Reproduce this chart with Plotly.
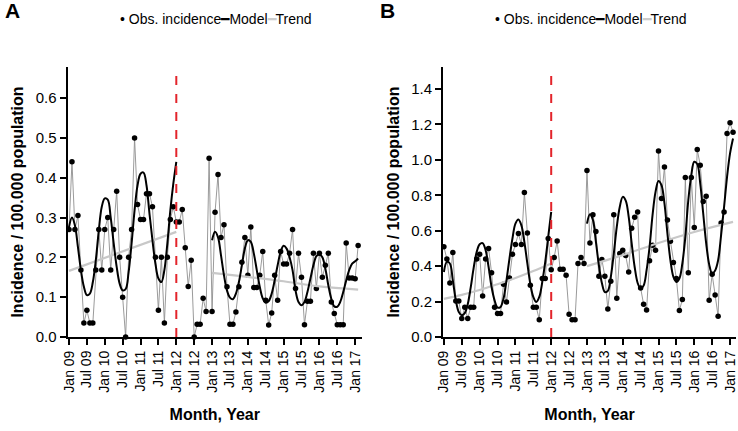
import plotly.graph_objects as go

# ---------------- data ----------------
MONTH_NAMES = ["Jan", "Feb", "Mar", "Apr", "May", "Jun", "Jul", "Aug", "Sep", "Oct", "Nov", "Dec"]
months = [f"{m} {y:02d}" for y in range(9, 18) for m in MONTH_NAMES][:98]   # Jan 09 .. Feb 17

tick_labels = ["Jan 09", "Jul 09", "Jan 10", "Jul 10", "Jan 11", "Jul 11", "Jan 12", "Jul 12",
               "Jan 13", "Jul 13", "Jan 14", "Jul 14", "Jan 15", "Jul 15", "Jan 16", "Jul 16", "Jan 17"]

intervention = "Jan 12"

# Panel A observed incidence
obs_a = [0.27, 0.44, 0.27, 0.305, 0.168, 0.035, 0.067, 0.035, 0.035, 0.168, 0.27, 0.168,
         0.27, 0.30, 0.168, 0.27, 0.366, 0.20, 0.10, 0.0, 0.20, 0.27, 0.50, 0.333,
         0.295, 0.295, 0.36, 0.36, 0.327, 0.20, 0.067, 0.20, 0.035, 0.20, 0.295, 0.327,
         0.289, 0.289, 0.32, 0.224, 0.127, 0.193, 0.0, 0.032, 0.032, 0.097, 0.064, 0.449,
         0.064, 0.313, 0.408, 0.25, 0.282, 0.126, 0.032, 0.032, 0.063, 0.126, 0.188, 0.25,
         0.155, 0.276, 0.124, 0.124, 0.155, 0.215, 0.092, 0.03, 0.06, 0.155, 0.092, 0.215,
         0.183, 0.183, 0.21, 0.27, 0.122, 0.21, 0.15, 0.031, 0.09, 0.09, 0.21, 0.122,
         0.21, 0.15, 0.18, 0.21, 0.088, 0.059, 0.031, 0.031, 0.031, 0.236, 0.148, 0.148,
         0.146, 0.23]

# Panel A model, before (Jan 09 - Jan 12) and after (Jan 13 - Feb 17)
model_a_pre_start = "Jan 09"
model_a_pre = [0.276, 0.30, 0.28, 0.226, 0.168, 0.126, 0.105, 0.109, 0.138, 0.193, 0.268, 0.327,
               0.348, 0.345, 0.30, 0.235, 0.176, 0.134, 0.117, 0.12, 0.163, 0.235, 0.318, 0.381,
               0.41, 0.413, 0.381, 0.31, 0.243, 0.184, 0.147, 0.138, 0.168, 0.235, 0.318, 0.385,
               0.44]
model_a_post_start = "Jan 13"
model_a_post = [0.243, 0.264, 0.25, 0.205, 0.155, 0.117, 0.099, 0.095, 0.109, 0.138, 0.18, 0.222,
                0.243, 0.239, 0.21, 0.168, 0.126, 0.097, 0.086, 0.09, 0.109, 0.142, 0.18, 0.214,
                0.229, 0.222, 0.20, 0.168, 0.117, 0.088, 0.08, 0.088, 0.113, 0.147, 0.18, 0.203,
                0.208, 0.20, 0.172, 0.13, 0.096, 0.077, 0.076, 0.088, 0.113, 0.142, 0.168, 0.184,
                0.19, 0.197]

trend_a_pre_months = ["Jan 09", "Jan 12"]
trend_a_pre = [0.166, 0.264]
trend_a_post_months = ["Jan 13", "Jan 14", "Jan 15", "Jan 16", "Feb 17"]
trend_a_post = [0.161, 0.151, 0.14, 0.127, 0.119]

# Panel B observed incidence
obs_b = [0.51, 0.44, 0.305, 0.477, 0.203, 0.203, 0.104, 0.168, 0.104, 0.168, 0.168, 0.44,
         0.467, 0.232, 0.44, 0.50, 0.362, 0.168, 0.132, 0.132, 0.298, 0.198, 0.333, 0.467,
         0.522, 0.584, 0.522, 0.816, 0.587, 0.292, 0.168, 0.168, 0.098, 0.33, 0.33, 0.556,
         0.38, 0.449, 0.542, 0.382, 0.382, 0.349, 0.128, 0.098, 0.098, 0.415, 0.449, 0.415,
         0.94, 0.531, 0.69, 0.595, 0.343, 0.437, 0.343, 0.158, 0.315, 0.69, 0.219, 0.471,
         0.49, 0.46, 0.367, 0.614, 0.676, 0.705, 0.277, 0.185, 0.153, 0.43, 0.518, 0.49,
         1.05, 0.782, 0.96, 0.66, 0.54, 0.42, 0.33, 0.15, 0.211, 0.90, 0.362, 0.90,
         0.618, 1.058, 0.97, 0.765, 0.795, 0.207, 0.354, 0.237, 0.117, 0.644, 0.706, 1.149,
         1.21, 1.155]

model_b_pre_start = "Jan 09"
model_b_pre = [0.367, 0.424, 0.415, 0.32, 0.207, 0.141, 0.123, 0.135, 0.185, 0.28, 0.392, 0.48,
               0.524, 0.53, 0.49, 0.395, 0.282, 0.207, 0.166, 0.17, 0.217, 0.32, 0.443, 0.556,
               0.64, 0.663, 0.63, 0.537, 0.415, 0.30, 0.226, 0.198, 0.226, 0.31, 0.424, 0.565,
               0.706]
model_b_post_start = "Jan 13"
model_b_post = [0.64, 0.693, 0.66, 0.537, 0.405, 0.305, 0.254, 0.26, 0.339, 0.471, 0.621, 0.734,
                0.791, 0.77, 0.678, 0.528, 0.395, 0.305, 0.273, 0.29, 0.377, 0.508, 0.688, 0.819,
                0.881, 0.857, 0.754, 0.584, 0.433, 0.339, 0.311, 0.33, 0.415, 0.565, 0.772, 0.914,
                0.989, 0.976, 0.867, 0.697, 0.528, 0.41, 0.358, 0.375, 0.433, 0.575, 0.734, 0.904,
                1.036, 1.12]

trend_b_pre_months = ["Jan 09", "Jul 09", "Jan 10", "Jul 10", "Jan 11", "Jul 11", "Jan 12"]
trend_b_pre = [0.215, 0.238, 0.265, 0.298, 0.333, 0.372, 0.415]
trend_b_post_months = ["Jan 13", "Jan 14", "Jan 15", "Jan 16", "Feb 17"]
trend_b_post = [0.40, 0.462, 0.531, 0.593, 0.65]

y_ticks_a = [0.0, 0.1, 0.2, 0.3, 0.4, 0.5, 0.6]
y_ticks_b = [0.0, 0.2, 0.4, 0.6, 0.8, 1.0, 1.2, 1.4]

# ---------------- figure ----------------
idx = {m: i for i, m in enumerate(months)}
FONT = "Liberation Sans, Arial, sans-serif"
OBS_LINE = "#8f8f8f"
TREND = "#c8c8c8"
RED = "#e3242b"

fig = go.Figure()


def add_panel(obs, m_pre_start, m_pre, m_post_start, m_post, t_pre_m, t_pre, t_post_m, t_post, xa, ya):
    fig.add_trace(go.Scatter(x=list(range(len(obs))), y=obs, mode="lines+markers",
                             line=dict(color=OBS_LINE, width=0.9),
                             marker=dict(color="black", size=5.5),
                             xaxis=xa, yaxis=ya, showlegend=False, cliponaxis=False))
    for mm, vv in ((t_pre_m, t_pre), (t_post_m, t_post)):
        fig.add_trace(go.Scatter(x=[idx[m] for m in mm], y=vv, mode="lines",
                                 line=dict(color=TREND, width=2.2, shape="spline"),
                                 xaxis=xa, yaxis=ya, showlegend=False))
    for start, vals in ((m_pre_start, m_pre), (m_post_start, m_post)):
        s = idx[start]
        fig.add_trace(go.Scatter(x=list(range(s, s + len(vals))), y=vals, mode="lines",
                                 line=dict(color="black", width=2, shape="spline", smoothing=1.0),
                                 xaxis=xa, yaxis=ya, showlegend=False))


add_panel(obs_a, model_a_pre_start, model_a_pre, model_a_post_start, model_a_post,
          trend_a_pre_months, trend_a_pre, trend_a_post_months, trend_a_post, "x", "y")
add_panel(obs_b, model_b_pre_start, model_b_pre, model_b_post_start, model_b_post,
          trend_b_pre_months, trend_b_pre, trend_b_post_months, trend_b_post, "x2", "y2")

W, H = 738, 431
ydom = [1 - 337 / H, 1 - 67 / H]

xcommon = dict(tickmode="array", tickvals=[idx[t] for t in tick_labels], ticktext=tick_labels,
               tickangle=-90, ticks="outside", ticklen=6, tickwidth=2, tickcolor="black",
               showline=True, linecolor="black", linewidth=2, showgrid=False, zeroline=False,
               automargin=False,
               tickfont=dict(family=FONT, size=14, color="black"),
               title=dict(text="<b>Month, Year</b>", font=dict(family=FONT, size=16, color="black"),
                          standoff=17))
ycommon = dict(ticks="outside", ticklen=6, tickwidth=2, tickcolor="black",
               showline=True, linecolor="black", linewidth=2, showgrid=False, zeroline=False,
               automargin=False,
               tickfont=dict(family=FONT, size=15, color="black"),
               title=dict(text="<b>Incidence / 100.000 population</b>",
                          font=dict(family=FONT, size=16, color="black"), standoff=8))

fig.update_layout(
    width=W, height=H, margin=dict(l=0, r=0, t=0, b=0, autoexpand=False),
    paper_bgcolor="white", plot_bgcolor="white",
    xaxis=dict(domain=[67.5 / W, 362 / W], range=[-0.5, 98.3], anchor="y", **xcommon),
    yaxis=dict(domain=ydom, range=[0, 0.678], anchor="x", tickvals=y_ticks_a,
               ticktext=[f"{v:.1f}" for v in y_ticks_a], **ycommon),
    xaxis2=dict(domain=[443 / W, 736 / W], range=[-0.3, 98.0], anchor="y2", **xcommon),
    yaxis2=dict(domain=ydom, range=[0, 1.524], anchor="x2", tickvals=y_ticks_b,
                ticktext=[f"{v:.1f}" for v in y_ticks_b], **ycommon),
    showlegend=False,
)

# intervention lines
for xr in ("x", "x2"):
    fig.add_shape(type="line", xref=xr, yref=f"y{'' if xr == 'x' else '2'} domain",
                  x0=idx[intervention], x1=idx[intervention], y0=0, y1=1,
                  line=dict(color=RED, width=2, dash="dash"))

# legends and panel letters
legend_text = ("<span style='color:black'>•</span> Obs. incidence"
               "<span style='color:black'>━</span>Model"
               "<span style='color:#cccccc'>━</span>Trend")
for xc, letter, lx in ((216 / W, "A", 3 / W), (591 / W, "B", 378 / W)):
    fig.add_annotation(x=xc, y=1 - 19 / H, xref="paper", yref="paper", text=legend_text,
                       showarrow=False, xanchor="center", yanchor="middle",
                       font=dict(family=FONT, size=14, color="black"))
    fig.add_annotation(x=lx, y=1 - 11 / H, xref="paper", yref="paper", text=f"<b>{letter}</b>",
                       showarrow=False, xanchor="left", yanchor="middle",
                       font=dict(family=FONT, size=21, color="black"))

fig.write_html("out.html", config={"displayModeBar": False},
               post_script="document.body.style.margin='0px';"
                           "document.body.style.overflow='hidden';")
